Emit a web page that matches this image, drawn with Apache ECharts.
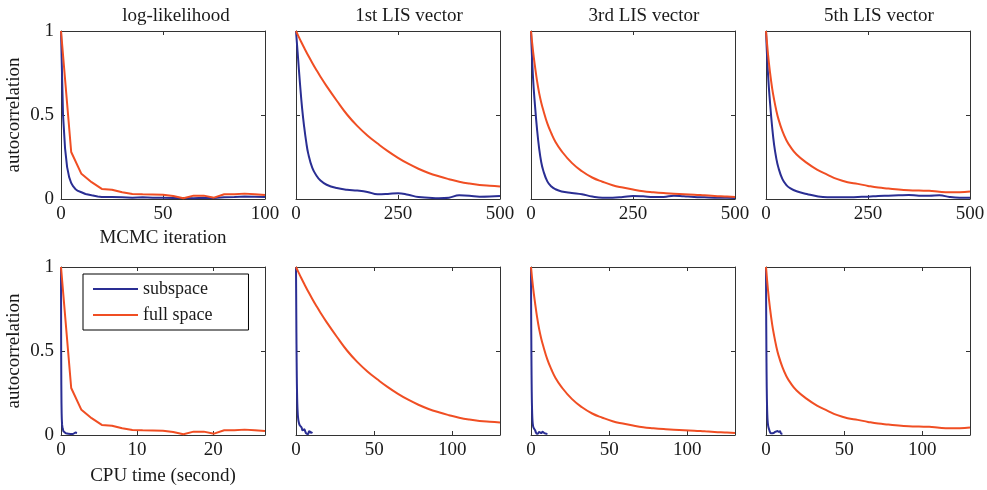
<!DOCTYPE html>
<html><head><meta charset="utf-8">
<script src="https://cdn.jsdelivr.net/npm/echarts@6/dist/echarts.min.js"></script>
<style>html,body{margin:0;padding:0;background:#fff}#c{width:987px;height:490px}</style>
</head><body><div id="c"></div>
<script>
// ---------------- data ----------------
const panelTitles = ['log-likelihood', '1st LIS vector', '3rd LIS vector', '5th LIS vector'];
const seriesNames = ['subspace', 'full space'];
const yAxisName = 'autocorrelation';
const xNameIter = 'MCMC iteration';
const xNameCpu = 'CPU time (second)';

// x-axis ranges / ticks
const iterMax = [100, 500, 500, 500];
const iterInterval = [50, 250, 250, 250];
const cpuMax = [26.8, 130.5, 130.5, 130.5];
const cpuInterval = [10, 50, 50, 50];

// CPU seconds per MCMC iteration (read from the lower row)
const secPerIterSub = [0.021, 0.021, 0.021, 0.021];
const secPerIterFull = [0.268, 0.261, 0.261, 0.261];

// log-likelihood
const lagLL_sub = [0,1,2,3,4,5,6,7,8,10,12,15,18,20,25,30,35,40,45,50,55,60,65,70,75,80,85,90,95,100];
const acfLL_sub = [1.0,0.5,0.3,0.19,0.13,0.095,0.075,0.06,0.05,0.04,0.03,0.022,0.015,0.012,0.012,0.01,0.008,0.01,0.008,0.008,0.006,0.006,0.005,0.008,0.006,0.01,0.012,0.015,0.014,0.012];
const lagLL_full = [0,5,10,15,20,25,30,35,40,45,50,55,60,65,70,75,80,85,90,95,100];
const acfLL_full = [1.0,0.28,0.15,0.10,0.06,0.055,0.04,0.03,0.028,0.027,0.025,0.018,0.005,0.02,0.02,0.008,0.028,0.028,0.032,0.028,0.024];

// LIS vectors (common lags)
const lagLIS = [0,5,10,15,20,25,30,40,50,60,75,100,125,150,175,200,225,250,275,300,325,350,375,400,425,450,475,500];
const acfLIS1_sub = [1.0,0.84,0.68,0.54,0.43,0.34,0.27,0.185,0.14,0.11,0.085,0.065,0.055,0.05,0.042,0.028,0.03,0.034,0.025,0.012,0.008,0.005,0.008,0.022,0.02,0.014,0.015,0.018];
const acfLIS1_full = [1.0,0.974,0.949,0.924,0.90,0.877,0.854,0.81,0.768,0.728,0.672,0.585,0.503,0.435,0.378,0.33,0.285,0.245,0.21,0.18,0.155,0.135,0.118,0.103,0.092,0.084,0.079,0.075];
const acfLIS3_sub = [1.0,0.72,0.55,0.41,0.30,0.22,0.17,0.105,0.074,0.058,0.045,0.036,0.028,0.015,0.008,0.008,0.012,0.018,0.016,0.012,0.012,0.02,0.016,0.012,0.01,0.008,0.007,0.006];
const acfLIS3_full = [1.0,0.88,0.785,0.70,0.63,0.575,0.53,0.45,0.39,0.34,0.285,0.215,0.165,0.128,0.103,0.082,0.068,0.056,0.046,0.04,0.035,0.031,0.029,0.026,0.022,0.018,0.015,0.012];
const acfLIS5_sub = [1.0,0.74,0.57,0.43,0.32,0.245,0.19,0.12,0.083,0.063,0.046,0.03,0.016,0.01,0.01,0.01,0.012,0.014,0.018,0.02,0.022,0.024,0.02,0.02,0.022,0.012,0.008,0.008];
const acfLIS5_full = [1.0,0.86,0.75,0.66,0.59,0.53,0.48,0.405,0.35,0.31,0.265,0.215,0.175,0.145,0.118,0.10,0.09,0.078,0.068,0.062,0.056,0.052,0.05,0.049,0.043,0.04,0.04,0.044];

// ---------------- layout / style ----------------
const FONT = 'Liberation Serif';
const TXT = '#1a1a1a';
const AX = '#333333';
const BLUE = '#2a2e93';
const RED = '#f04e23';
const colLeft = [61, 296, 531, 766];
const rowTop = [31, 267];
const gridW = 204, gridH = 168;
const titleX = [176, 409, 644, 879];

const panels = [
  {subLag: lagLL_sub, sub: acfLL_sub, fullLag: lagLL_full, full: acfLL_full, smooth: false},
  {subLag: lagLIS, sub: acfLIS1_sub, fullLag: lagLIS, full: acfLIS1_full, smooth: 0.45},
  {subLag: lagLIS, sub: acfLIS3_sub, fullLag: lagLIS, full: acfLIS3_full, smooth: 0.45},
  {subLag: lagLIS, sub: acfLIS5_sub, fullLag: lagLIS, full: acfLIS5_full, smooth: 0.45}
];

const grid = [], xAxis = [], yAxis = [], series = [];
const tickStyle = {show: true, inside: true, length: 4, lineStyle: {color: AX, width: 1}};
const lineStyleAx = {show: true, onZero: false, lineStyle: {color: AX, width: 1}};
const labelStyle = {color: TXT, fontFamily: FONT, fontSize: 19};

for (let r = 0; r < 2; r++) {
  for (let c = 0; c < 4; c++) {
    const g = r * 4 + c;
    grid.push({left: colLeft[c], top: rowTop[r], width: gridW, height: gridH, containLabel: false, outerBoundsMode: 'none'});
    const max = r === 0 ? iterMax[c] : cpuMax[c];
    const interval = r === 0 ? iterInterval[c] : cpuInterval[c];
    const xi = xAxis.length;
    xAxis.push({
      type: 'value', gridIndex: g, position: 'bottom', min: 0, max: max, interval: interval,
      axisLine: lineStyleAx, axisTick: tickStyle, splitLine: {show: false},
      axisLabel: Object.assign({margin: 6, showMinLabel: true, showMaxLabel: r === 0}, labelStyle),
      name: c === 0 ? (r === 0 ? xNameIter : xNameCpu) : '',
      nameLocation: 'middle', nameGap: r === 0 ? 30 : 32,
      nameTextStyle: {color: TXT, fontFamily: FONT, fontSize: 19}
    });
    xAxis.push({
      type: 'value', gridIndex: g, position: 'top', min: 0, max: max, interval: interval,
      axisLine: lineStyleAx, axisTick: tickStyle, axisLabel: {show: false}, splitLine: {show: false}
    });
    const yi = yAxis.length;
    yAxis.push({
      type: 'value', gridIndex: g, position: 'left', min: 0, max: 1, interval: 0.5,
      axisLine: lineStyleAx, axisTick: tickStyle, splitLine: {show: false},
      axisLabel: Object.assign({show: c === 0, margin: 7}, labelStyle),
      name: c === 0 ? yAxisName : '', nameLocation: 'middle', nameGap: 37,
      nameTextStyle: {color: TXT, fontFamily: FONT, fontSize: 19}
    });
    yAxis.push({
      type: 'value', gridIndex: g, position: 'right', min: 0, max: 1, interval: 0.5,
      axisLine: lineStyleAx, axisTick: tickStyle, axisLabel: {show: false}, splitLine: {show: false}
    });
    const p = panels[c];
    const sc = r === 0 ? 1 : secPerIterSub[c];
    const fc = r === 0 ? 1 : secPerIterFull[c];
    series.push({
      name: seriesNames[0], type: 'line', xAxisIndex: xi, yAxisIndex: yi,
      data: p.subLag.map((l, i) => [l * sc, p.sub[i]]),
      symbol: 'none', showSymbol: false, smooth: p.smooth, clip: true,
      lineStyle: {color: BLUE, width: 2}, itemStyle: {color: BLUE}, z: 2, silent: true
    });
    series.push({
      name: seriesNames[1], type: 'line', xAxisIndex: xi, yAxisIndex: yi,
      data: p.fullLag.map((l, i) => [l * fc, p.full[i]]),
      symbol: 'none', showSymbol: false, smooth: p.smooth, clip: true,
      lineStyle: {color: RED, width: 2}, itemStyle: {color: RED}, z: 3, silent: true
    });
  }
}

const graphic = panelTitles.map((t, i) => ({
  type: 'text', x: titleX[i], y: 16,
  style: {text: t, fill: TXT, font: '19px "' + FONT + '"', align: 'center', verticalAlign: 'middle', textAlign: 'center', textVerticalAlign: 'middle'}
}));

const chart = echarts.init(document.getElementById('c'), null, {renderer: 'canvas'});
chart.setOption({
  animation: false,
  backgroundColor: '#ffffff',
  grid, xAxis, yAxis, series, graphic,
  legend: {
    data: seriesNames, orient: 'vertical', left: 83, top: 274,
    icon: 'rect', itemWidth: 45, itemHeight: 2,
    backgroundColor: '#ffffff', borderColor: '#000000', borderWidth: 1,
    padding: [6, 36, 6, 10], itemGap: 8,
    textStyle: {color: TXT, fontFamily: FONT, fontSize: 18}, selectedMode: false
  }
});
</script></body></html>
